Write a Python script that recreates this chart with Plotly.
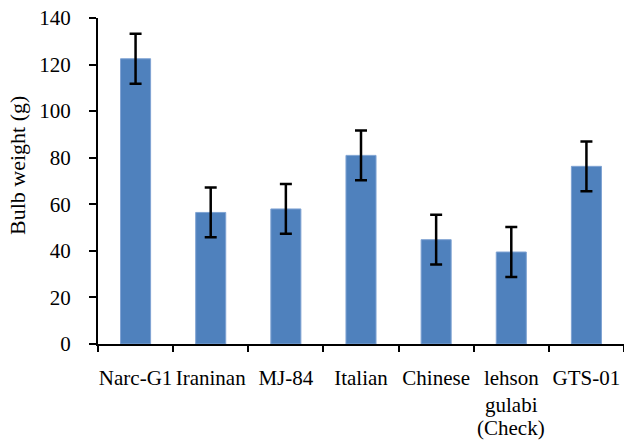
import plotly.graph_objects as go

categories = ["Narc-G1", "Iraninan", "MJ-84", "Italian", "Chinese", "lehson gulabi (Check)", "GTS-01"]
tick_lines = [["Narc-G1"], ["Iraninan"], ["MJ-84"], ["Italian"], ["Chinese"], ["lehson", "gulabi", "(Check)"], ["GTS-01"]]
bulb_weight = [122.5, 56.5, 58.0, 81.0, 44.8, 39.5, 76.3]
error = [10.7, 10.7, 10.7, 10.7, 10.7, 10.7, 10.7]
y_ticks = [0, 20, 40, 60, 80, 100, 120, 140]
y_title = "Bulb weight (g)"

serif = "Liberation Serif, Times New Roman, serif"

fig = go.Figure(
    go.Bar(
        x=categories,
        y=bulb_weight,
        width=0.4,
        marker=dict(color="#4F81BD", line=dict(color="#7FA3D3", width=1)),
        error_y=dict(type="data", array=error, visible=True, color="black", thickness=2.5, width=6),
    )
)

# extra lines of multi-line category labels (tighter line spacing than <br>)
for cat, lines in zip(categories, tick_lines):
    for i, line in enumerate(lines[1:], start=1):
        fig.add_annotation(
            x=cat, xref="x", y=0, yref="paper",
            text=line, showarrow=False,
            yanchor="top", yshift=-(28 + 23.5 * i) + 4,
            font=dict(family=serif, size=21, color="black"),
            borderpad=0,
        )

fig.add_annotation(
    x=-0.154, xref="paper", y=0.549, yref="paper",
    text=y_title, textangle=-90, showarrow=False,
    xanchor="center", yanchor="middle",
    font=dict(family=serif, size=22, color="black"),
)

fig.update_layout(
    width=624,
    height=441,
    margin=dict(l=98, r=0, t=18, b=97, autoexpand=False),
    paper_bgcolor="white",
    plot_bgcolor="white",
    font=dict(family=serif, size=21, color="black"),
    showlegend=False,
)

fig.update_xaxes(
    type="category",
    tickmode="array",
    tickvals=categories,
    ticktext=[lines[0] for lines in tick_lines],
    tickson="boundaries",
    ticks="outside",
    ticklen=6,
    tickwidth=2,
    tickcolor="black",
    showline=True,
    linecolor="black",
    linewidth=2,
    showgrid=False,
    tickangle=0,
    automargin=False,
    tickfont=dict(family=serif, size=21, color="black"),
    ticklabelstandoff=14,
)

fig.update_yaxes(
    range=[0, 140],
    tickvals=y_ticks,
    ticks="outside",
    ticklen=7,
    tickwidth=2,
    tickcolor="black",
    showline=True,
    linecolor="black",
    linewidth=2,
    showgrid=False,
    zeroline=False,
    automargin=False,
    tickfont=dict(family=serif, size=21, color="black"),
    ticklabelstandoff=14,
)

fig.write_html(
    "out.html",
    config={"displayModeBar": False},
    post_script="document.body.style.margin='0';document.body.style.overflow='hidden';",
)
